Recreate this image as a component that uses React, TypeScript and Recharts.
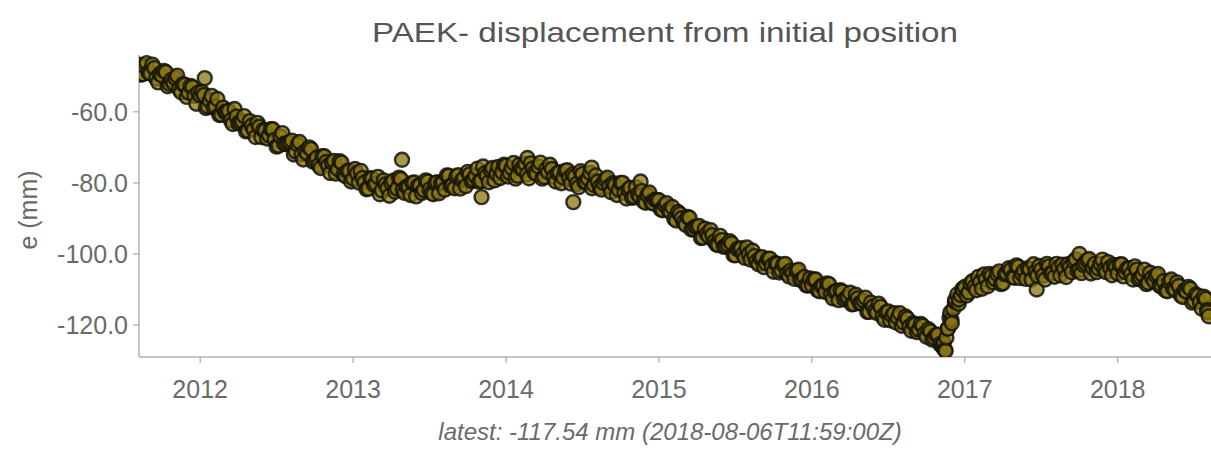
import React from 'react';
import { ScatterChart, Scatter, XAxis, YAxis } from 'recharts';

// GPS east displacement (mm). Two interleaved sample sets per year:
// "a" epochs at start + i*STEP, "b" epochs half a step later.
const STEP = 0.025;

const a2011 = [
    -46.7, -49.4, -46.3, -49.2, -47.7, -51.7, -49.8, -48.8, -52.1, -51.9, -49.8, -54.5, -52.4, -54.6, -53.1, -57.7,
];
const b2011 = [
    -49.5, -47.1, -48.9, -46.7, -50.6, -49.3, -48.5, -52.8, -51.0, -50.5, -53.6, -52.2, -55.8, -52.7, -55.5, -54.6,
];
const a2012 = [
    -55.4, -55.3, -58.5, -55.5, -58.5, -60.9, -58.8, -59.9, -62.4, -59.2, -63.3, -62.6, -65.5, -62.6, -65.0, -63.1,
    -67.1, -65.3, -66.6, -64.9, -69.8, -66.9, -69.0, -68.7, -68.1, -71.2, -68.5, -73.4, -71.7, -70.5, -73.6, -75.0,
    -72.5, -74.1, -77.2, -73.8, -76.1, -74.3, -78.1, -76.6,
];
const b2012 = [
    -54.4, -58.9, -56.8, -58.8, -56.4, -60.8, -60.1, -59.7, -63.4, -61.3, -63.0, -61.2, -65.3, -63.9, -67.1, -64.2,
    -65.1, -67.5, -64.9, -67.9, -69.5, -66.0, -69.1, -68.6, -72.0, -69.2, -72.0, -71.1, -70.0, -74.0, -72.9, -75.8,
    -72.5, -75.1, -74.3, -77.4, -73.9, -77.6, -76.7, -79.6,
];
const a2013 = [
    -78.8, -77.3, -76.6, -79.9, -81.6, -78.8, -80.2, -83.2, -79.3, -81.5, -80.0, -82.5, -78.5, -82.0, -81.1, -83.4,
    -79.9, -80.8, -82.8, -79.3, -81.9, -83.2, -79.8, -80.1, -81.9, -78.0, -80.6, -78.2, -81.6, -78.6, -76.9, -79.5,
    -78.1, -79.7, -75.4, -78.0, -76.4, -79.3, -75.5, -77.0,
];
const b2013 = [
    -76.1, -79.9, -78.6, -81.8, -78.7, -80.6, -78.3, -82.1, -80.4, -83.6, -79.4, -81.6, -78.9, -82.8, -81.1, -80.0,
    -83.8, -80.7, -82.0, -79.6, -82.8, -80.1, -82.9, -79.9, -77.9, -80.8, -81.5, -77.8, -79.2, -80.9, -77.6, -79.1,
    -76.0, -79.4, -77.3, -79.8, -75.8, -77.4, -78.6, -74.9,
];
const a2014 = [
    -75.2, -77.2, -74.4, -78.0, -76.0, -74.6, -78.7, -75.9, -77.5, -74.3, -78.3, -77.0, -76.1, -79.6, -77.0, -78.5,
    -76.4, -80.2, -78.2, -81.2, -77.5, -79.8, -77.2, -80.6, -79.6, -81.9, -79.1, -81.0, -80.1, -83.4, -80.0, -82.8,
    -81.9, -84.2, -81.2, -83.8, -85.2, -83.4, -85.5, -84.7,
];
const b2014 = [
    -78.2, -75.8, -78.8, -74.9, -76.2, -77.6, -74.5, -77.1, -75.4, -78.8, -76.2, -74.9, -78.3, -77.3, -80.1, -76.6,
    -78.6, -77.6, -80.3, -76.7, -79.8, -78.8, -81.5, -77.9, -81.2, -80.0, -78.5, -82.6, -80.6, -81.9, -80.0, -84.4,
    -81.4, -83.9, -83.2, -82.3, -85.6, -82.7, -85.8, -84.8,
];
const a2015 = [
    -84.9, -87.7, -85.7, -88.2, -90.1, -88.2, -89.9, -91.8, -89.8, -93.0, -92.4, -95.5, -92.9, -95.0, -94.7, -97.3,
    -94.9, -98.0, -97.3, -97.0, -100.4, -98.6, -100.1, -98.2, -101.6, -100.6, -102.9, -100.9, -102.6, -101.3, -105.0, -102.8,
    -104.6, -102.8, -106.3, -105.4, -104.8, -107.3, -106.5, -108.9,
];
const b2015 = [
    -87.5, -86.3, -87.7, -86.8, -90.6, -88.8, -91.1, -89.6, -93.1, -92.3, -92.1, -95.4, -94.4, -93.3, -96.5, -97.5,
    -96.1, -97.8, -96.4, -100.3, -98.6, -98.4, -101.1, -100.1, -99.1, -102.1, -101.2, -103.7, -101.4, -103.3, -102.6, -105.2,
    -103.0, -105.5, -104.7, -107.0, -104.4, -107.3, -108.8, -106.9,
];
const a2016 = [
    -108.8, -107.2, -110.5, -108.9, -108.3, -111.5, -110.6, -113.0, -110.6, -112.4, -110.9, -114.1, -112.5, -113.9, -112.3, -116.3,
    -114.8, -116.6, -114.9, -118.5, -116.2, -117.3, -119.3, -116.7, -119.3, -118.2, -121.6, -119.9, -121.3, -120.2, -123.3, -121.8,
    -123.7, -122.7, -125.8, -127.3, -117.9, -115.5, -111.4, -111.6,
];
const b2016 = [
    -107.2, -110.2, -109.0, -110.7, -108.5, -112.5, -110.4, -110.2, -112.8, -112.1, -114.2, -111.5, -113.9, -113.1, -116.3, -113.7,
    -116.1, -114.0, -117.6, -116.4, -118.7, -116.7, -117.9, -120.2, -117.6, -120.4, -119.5, -122.0, -119.7, -122.4, -121.2, -124.1,
    -122.8, -125.4, -125.0, -121.0, -118.5, -112.9, -112.8, -110.2,
];
const a2017 = [
    -109.3, -110.8, -107.7, -110.2, -107.9, -105.8, -109.1, -106.2, -107.1, -104.9, -108.2, -105.5, -104.5, -106.7, -103.6, -105.6,
    -107.0, -104.3, -102.9, -106.1, -104.4, -107.2, -103.5, -105.4, -102.8, -106.0, -104.2, -102.9, -105.1, -101.5, -104.5, -103.1,
    -101.8, -105.5, -102.8, -104.1, -101.6, -105.1, -103.9, -103.1,
];
const b2017 = [
    -111.7, -108.3, -109.3, -106.5, -109.8, -107.1, -105.6, -108.0, -105.6, -108.5, -105.7, -104.0, -106.5, -103.2, -106.8, -104.7,
    -104.0, -107.2, -105.0, -103.4, -106.1, -102.8, -105.4, -106.4, -103.8, -103.0, -106.5, -103.7, -102.1, -104.7, -105.4, -102.5,
    -101.4, -103.9, -105.1, -102.8, -104.4, -102.3, -106.0, -103.7,
];
const a2018 = [
    -105.5, -102.9, -105.1, -104.1, -107.2, -104.4, -106.6, -104.4, -108.1, -106.7, -106.1, -109.0, -107.7, -110.5, -107.2, -110.1,
    -109.0, -112.1, -110.6, -109.8, -113.2, -111.8, -115.4, -112.6,
];
const b2018 = [
    -103.0, -106.3, -104.1, -105.7, -103.5, -107.1, -105.9, -108.5, -105.3, -107.7, -105.6, -109.1, -110.3, -107.9, -109.7, -108.0,
    -111.7, -110.2, -109.3, -113.7, -111.4, -113.5, -112.0, -116.4,
];

// extra epochs: the step in late 2016, stray points, the latest value
const extraT = [2012.03, 2013.32, 2013.84, 2014.14, 2014.44, 2014.56, 2014.88, 2016.86, 2016.87, 2016.88, 2016.89, 2016.905, 2016.915, 2016.935, 2016.96, 2016.985, 2017.47, 2017.75, 2018.585, 2018.595];
const extraE = [-50.5, -73.5, -84.0, -73.0, -85.4, -75.7, -79.6, -126.5, -127.0, -123.5, -121.0, -116.5, -119.5, -113.5, -114.0, -109.8, -110.0, -100.0, -115.8, -117.54];

const segments: [number, number[], number[]][] = [
    [2011.6, a2011, b2011], [2012, a2012, b2012], [2013, a2013, b2013], [2014, a2014, b2014],
    [2015, a2015, b2015], [2016, a2016, b2016], [2017, a2017, b2017], [2018, a2018, b2018],
];

const data = [
    ...segments.flatMap(([start, a, b]) => [
        ...a.map((e, i) => ({ t: start + i * STEP, e })),
        ...b.map((e, i) => ({ t: start + (i + 0.5) * STEP, e })),
    ]),
    ...extraT.map((t, i) => ({ t, e: extraE[i] })),
].sort((p, q) => p.t - q.t);

const yearTicks = [2012, 2013, 2014, 2015, 2016, 2017, 2018];
const mmTicks = [-60, -80, -100, -120];

const FONT = '"Liberation Sans", Arial, sans-serif';
const TXT = '#6a6a6a';
const AXIS = '#c6c6c6';

const Dot = (p: any) => (
    <circle cx={p.cx} cy={p.cy} r={7} fill="#8a760f" fillOpacity={0.75} stroke="#141309" strokeOpacity={0.85} strokeWidth={2.4} />
);

export default function App() {
    return (
        <div style={{ position: 'absolute', left: 0, top: 0, width: 1211, height: 451, background: '#fff', fontFamily: FONT }}>
            <ScatterChart width={1211} height={451} margin={{ top: 55, right: 0, bottom: 34, left: 39 }}>
                <XAxis
                    type="number" dataKey="t" domain={[2011.6, 2018.61]} allowDataOverflow
                    ticks={yearTicks} tickFormatter={(v) => String(v)} height={60}
                    tick={{ fill: TXT, fontSize: 25, fontFamily: FONT }} tickMargin={17} tickSize={6}
                    axisLine={{ stroke: AXIS, strokeWidth: 2 }} tickLine={{ stroke: '#999' }}
                />
                <YAxis
                    type="number" dataKey="e" domain={[-129, -44]} allowDataOverflow
                    ticks={mmTicks} tickFormatter={(v) => v.toFixed(1)} width={100}
                    tick={{ fill: TXT, fontSize: 25, fontFamily: FONT }} tickMargin={5} tickSize={6}
                    axisLine={{ stroke: AXIS, strokeWidth: 2 }} tickLine={{ stroke: '#999' }}
                />
                <Scatter data={data} shape={Dot} isAnimationActive={false} />
            </ScatterChart>
            <svg width={1211} height={451} style={{ position: 'absolute', left: 0, top: 0, pointerEvents: 'none' }}>
                <text x={665} y={42} textAnchor="middle" fontSize={28} fill="#555" textLength={586} lengthAdjust="spacingAndGlyphs" fontFamily={FONT}>
                    PAEK- displacement from initial position
                </text>
                <text transform="translate(37,210) rotate(-90)" textAnchor="middle" fontSize={25} fill={TXT} fontFamily={FONT}>
                    e (mm)
                </text>
                <text x={670} y={440} textAnchor="middle" fontSize={24} fontStyle="italic" fill={TXT} fontFamily={FONT}>
                    latest: -117.54 mm (2018-08-06T11:59:00Z)
                </text>
            </svg>
        </div>
    );
}
